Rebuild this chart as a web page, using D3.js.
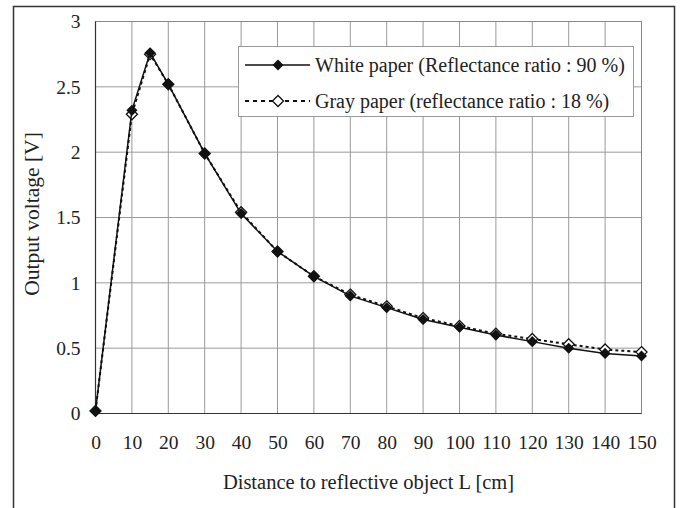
<!DOCTYPE html>
<meta charset="utf-8">
<script src="https://d3js.org/d3.v7.min.js"></script>
<style>
  body { margin: 0; background: #fff; }
  text { font-family: "Liberation Serif", "Times New Roman", serif; fill: #222; }
</style>
<div id="my_dataviz"></div>
<script>
// Data
var distance = [0, 10, 15, 20, 30, 40, 50, 60, 70, 80, 90, 100, 110, 120, 130, 140, 150];
var whitePaper = [0.02, 2.32, 2.76, 2.52, 1.99, 1.53, 1.24, 1.05, 0.90, 0.81, 0.72, 0.66, 0.60, 0.55, 0.50, 0.46, 0.44];
var grayPaper = [0.02, 2.29, 2.75, 2.52, 1.99, 1.54, 1.24, 1.05, 0.91, 0.82, 0.73, 0.67, 0.61, 0.57, 0.53, 0.49, 0.47];
var xTicks = [0, 10, 20, 30, 40, 50, 60, 70, 80, 90, 100, 110, 120, 130, 140, 150];
var yTicks = [0, 0.5, 1, 1.5, 2, 2.5, 3];
var legendLabels = ["White paper (Reflectance ratio : 90 %)", "Gray paper (reflectance ratio : 18 %)"];

var W = 681, H = 508;
var margin = {top: 21.5, right: 39.5, bottom: 94.5, left: 95.5},
    width = W - margin.left - margin.right,
    height = H - margin.top - margin.bottom;

var root = d3.select("#my_dataviz")
  .append("svg")
    .attr("width", W)
    .attr("height", H);

// outer frame of the figure
root.append("rect")
  .attr("x", 13.5).attr("y", 6.5)
  .attr("width", 661).attr("height", 520)
  .attr("fill", "none")
  .attr("stroke", "#333")
  .attr("stroke-width", 1.5);

var svg = root.append("g")
  .attr("transform", "translate(" + margin.left + "," + margin.top + ")");

var x = d3.scaleLinear().domain([0, 150]).range([0, width]);
var y = d3.scaleLinear().domain([0, 3]).range([height, 0]);

// grid
svg.selectAll("vgrid")
  .data(xTicks)
  .enter()
  .append("line")
    .attr("x1", function(d) { return x(d); })
    .attr("x2", function(d) { return x(d); })
    .attr("y1", 0).attr("y2", height)
    .attr("stroke", "#9a9a9a")
    .attr("stroke-width", 1);

svg.selectAll("hgrid")
  .data(yTicks)
  .enter()
  .append("line")
    .attr("x1", 0).attr("x2", width)
    .attr("y1", function(d) { return y(d); })
    .attr("y2", function(d) { return y(d); })
    .attr("stroke", "#9a9a9a")
    .attr("stroke-width", 1);

// plot border: gray on top/right, dark on left/bottom
svg.append("rect")
  .attr("width", width).attr("height", height)
  .attr("fill", "none")
  .attr("stroke", "#888");
svg.append("line").attr("x1", 0).attr("x2", 0).attr("y1", 0).attr("y2", height)
  .attr("stroke", "#333").attr("stroke-width", 1.2);
svg.append("line").attr("x1", 0).attr("x2", width).attr("y1", height).attr("y2", height)
  .attr("stroke", "#333").attr("stroke-width", 1.2);

// axes labels (no tick marks)
var xAxis = svg.append("g")
  .attr("transform", "translate(0," + height + ")")
  .call(d3.axisBottom(x).tickValues(xTicks).tickSize(0).tickPadding(22).tickFormat(d3.format("d")));
var yAxis = svg.append("g")
  .call(d3.axisLeft(y).tickValues(yTicks).tickSize(0).tickPadding(15).tickFormat(function(d) { return String(d); }));
[xAxis, yAxis].forEach(function(a) {
  a.select(".domain").remove();
  a.selectAll("text")
    .style("font-family", '"Liberation Serif", serif')
    .style("font-size", "19.5px")
    .attr("fill", "#222");
});

// axis titles
root.append("text")
  .attr("x", margin.left + width / 2)
  .attr("y", 489)
  .attr("text-anchor", "middle")
  .style("font-size", "20.5px")
  .text("Distance to reflective object L [cm]");

root.append("text")
  .attr("transform", "translate(39,214)rotate(-90)")
  .attr("text-anchor", "middle")
  .style("font-size", "21.5px")
  .text("Output voltage [V]");

// lines
var line = function(vals) {
  return d3.line()
    .x(function(d, i) { return x(distance[i]); })
    .y(function(d) { return y(d); })(vals);
};

var diamond = d3.symbol().type(d3.symbolDiamond2).size(78);

svg.append("path")
  .attr("d", line(grayPaper))
  .attr("fill", "none")
  .attr("stroke", "#111")
  .attr("stroke-width", 2)
  .attr("stroke-dasharray", "3,3");

svg.selectAll("graypts")
  .data(grayPaper)
  .enter()
  .append("path")
    .attr("d", diamond)
    .attr("transform", function(d, i) { return "translate(" + x(distance[i]) + "," + y(d) + ")"; })
    .attr("fill", "#fff")
    .attr("stroke", "#111")
    .attr("stroke-width", 1.3);

svg.append("path")
  .attr("d", line(whitePaper))
  .attr("fill", "none")
  .attr("stroke", "#111")
  .attr("stroke-width", 1.5);

svg.selectAll("whitepts")
  .data(whitePaper)
  .enter()
  .append("path")
    .attr("d", diamond)
    .attr("transform", function(d, i) { return "translate(" + x(distance[i]) + "," + y(d) + ")"; })
    .attr("fill", "#111");

// legend
var legend = root.append("g");
legend.append("rect")
  .attr("x", 238.5).attr("y", 46.5)
  .attr("width", 395).attr("height", 70)
  .attr("fill", "#fff")
  .attr("stroke", "#999");

var rows = legend.selectAll("row")
  .data(legendLabels)
  .enter()
  .append("g")
    .attr("transform", function(d, i) { return "translate(0," + (65 + i * 36) + ")"; });

rows.append("line")
  .attr("x1", 245).attr("x2", 310)
  .attr("stroke", "#111")
  .attr("stroke-width", function(d, i) { return i === 0 ? 1.5 : 2; })
  .attr("stroke-dasharray", function(d, i) { return i === 0 ? null : "4,4"; });

rows.append("path")
  .attr("d", diamond)
  .attr("transform", "translate(278,0)")
  .attr("fill", function(d, i) { return i === 0 ? "#111" : "#fff"; })
  .attr("stroke", "#111")
  .attr("stroke-width", function(d, i) { return i === 0 ? 0 : 1.3; });

rows.append("text")
  .attr("x", 315)
  .attr("y", 6.5)
  .style("font-size", "20px")
  .text(function(d) { return d; });
</script>
